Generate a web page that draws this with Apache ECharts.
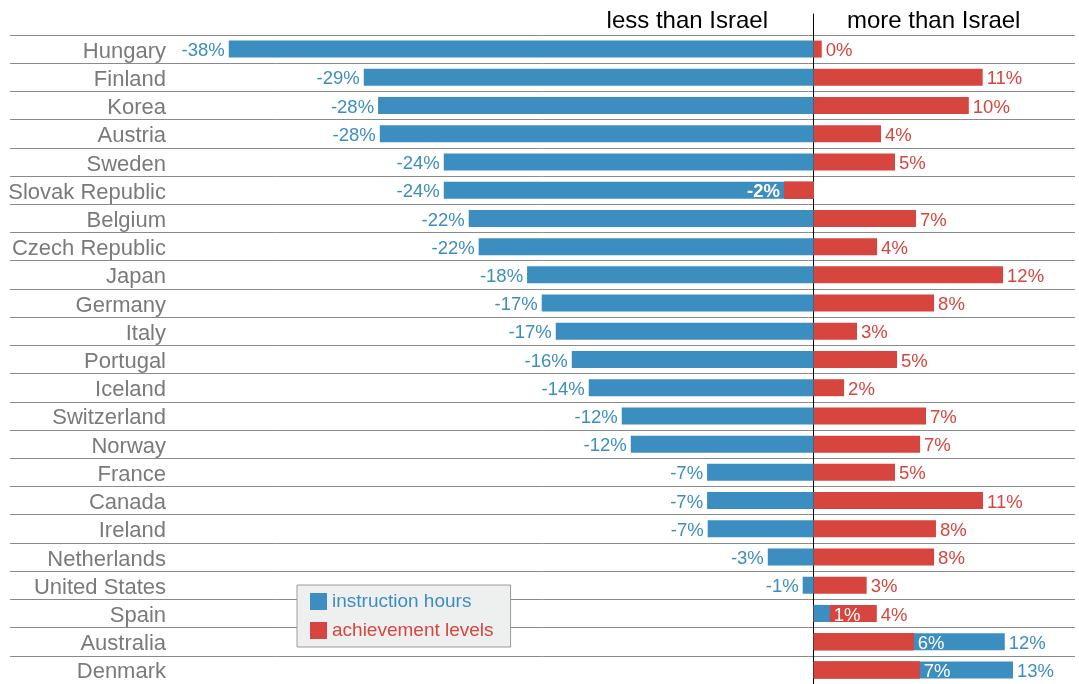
<!DOCTYPE html>
<html>
<head>
<meta charset="utf-8">
<script src="https://cdn.jsdelivr.net/npm/echarts@6/dist/echarts.min.js"></script>
<style>
  html, body { margin: 0; padding: 0; background: #fff; }
  #chart { width: 1079px; height: 684px; }
</style>
</head>
<body>
<div id="chart"></div>
<script>
const categories = ['Hungary', 'Finland', 'Korea', 'Austria', 'Sweden', 'Slovak Republic', 'Belgium',
  'Czech Republic', 'Japan', 'Germany', 'Italy', 'Portugal', 'Iceland', 'Switzerland', 'Norway',
  'France', 'Canada', 'Ireland', 'Netherlands', 'United States', 'Spain', 'Australia', 'Denmark'];

const instructionHours = [-37.57, -28.90, -27.98, -27.87, -23.76, -23.76, -22.16,
  -21.52, -18.41, -17.47, -16.57, -15.54, -14.45, -12.33, -11.75,
  -6.85, -6.85, -6.81, -2.95, -0.71, 1.03, 12.27, 12.80];

const achievementLevels = [0.3, 10.85, 9.96, 4.32, 5.22, -1.91, 6.57,
  4.07, 12.16, 7.73, 2.78, 5.35, 1.95, 7.21, 6.83,
  5.22, 10.87, 7.85, 7.73, 3.40, 4.05, 6.42, 6.81];

const headerLeft = 'less than Israel';
const headerRight = 'more than Israel';
const seriesNames = ['instruction hours', 'achievement levels'];

const BLUE = '#3d8ec0';
const RED = '#d6453e';
const FONT = '"Liberation Sans", Arial, Helvetica, sans-serif';
const fmt = p => Math.round(p.value) + '%';

// which bar is the shorter one when both bars point the same way
function shorter(i) {
  const b = instructionHours[i], r = achievementLevels[i];
  if (b * r <= 0) return null;
  return Math.abs(b) < Math.abs(r) ? 'blue' : 'red';
}

const blueData = instructionHours.map((v, i) => ({
  value: v,
  label: { show: shorter(i) !== 'blue', position: v < 0 ? 'left' : 'right' }
}));
const redData = achievementLevels.map((v, i) => ({
  value: v,
  label: { show: shorter(i) !== 'red', position: v < 0 ? 'left' : 'right' }
}));
const overlayData = categories.map((c, i) => {
  const s = shorter(i);
  if (!s) return '-';
  const v = s === 'blue' ? instructionHours[i] : achievementLevels[i];
  return {
    value: v,
    itemStyle: { color: s === 'blue' ? BLUE : RED },
    label: { show: true, position: v < 0 ? 'left' : 'right', color: '#fff', fontWeight: v < 0 ? 'bold' : 'normal' }
  };
});

const XMIN = -51.62, XMAX = 16.78;
const labelStyle = { fontSize: 18.5, distance: 4, formatter: fmt, fontFamily: FONT, offset: [0, 2] };

const chart = echarts.init(document.getElementById('chart'), null, { renderer: 'canvas' });
chart.setOption({
  animation: false,
  textStyle: { fontFamily: FONT },
  title: [
    { text: headerLeft, right: 311, top: 9, padding: 0,
      textStyle: { fontSize: 24, fontWeight: 'normal', color: '#000', fontFamily: FONT } },
    { text: headerRight, left: 847, top: 9, padding: 0,
      textStyle: { fontSize: 24, fontWeight: 'normal', color: '#000', fontFamily: FONT } }
  ],
  legend: {
    data: [
      { name: seriesNames[0], textStyle: { color: BLUE } },
      { name: seriesNames[1], textStyle: { color: RED } }
    ],
    orient: 'vertical',
    left: 297, top: 585,
    padding: [7, 17, 7, 13],
    itemWidth: 17, itemHeight: 17, itemGap: 10, itemTextGap: 5,
    icon: 'rect',
    backgroundColor: '#eef0ef',
    borderColor: '#9a9a9a', borderWidth: 1,
    textStyle: { fontSize: 19, fontFamily: FONT },
    selectedMode: false,
    z: 10
  },
  grid: [
    { left: 10, right: 4, top: 35, bottom: -2 },
    { left: 10, right: 4, top: 14, bottom: 0 }
  ],
  xAxis: [
    { type: 'value', gridIndex: 0, min: XMIN, max: XMAX, show: false },
    { type: 'value', gridIndex: 1, min: XMIN, max: XMAX, axisLabel: { show: false },
      axisLine: { show: false }, axisTick: { show: false }, splitLine: { show: false } }
  ],
  yAxis: [
    {
      type: 'category', gridIndex: 0, data: categories, inverse: true,
      offset: -164,
      axisLine: { show: false, onZero: false },
      axisTick: { show: false },
      axisLabel: { interval: 0, fontSize: 22, color: '#7a7a7a', margin: 8, fontFamily: FONT,
        verticalAlign: 'top', lineHeight: 5 },
      splitLine: { show: true, interval: 0, lineStyle: { color: '#8a8a8a', width: 1 } }
    },
    {
      type: 'category', gridIndex: 1, data: [''],
      axisLine: { show: true, onZero: true, lineStyle: { color: '#000', width: 1 } },
      axisTick: { show: false }, axisLabel: { show: false }, splitLine: { show: false }
    }
  ],
  series: [
    {
      name: seriesNames[0], type: 'bar', xAxisIndex: 0, yAxisIndex: 0,
      data: blueData, barWidth: 17, barGap: '-100%',
      itemStyle: { color: BLUE },
      label: Object.assign({ show: true, color: BLUE }, labelStyle)
    },
    {
      name: seriesNames[1], type: 'bar', xAxisIndex: 0, yAxisIndex: 0,
      data: redData, barWidth: 17, barGap: '-100%', barMinHeight: 8,
      itemStyle: { color: RED },
      label: Object.assign({ show: true, color: RED }, labelStyle)
    },
    {
      name: 'overlay', type: 'bar', xAxisIndex: 0, yAxisIndex: 0,
      data: overlayData, barWidth: 17, barGap: '-100%',
      label: Object.assign({ show: true }, labelStyle)
    }
  ]
});
</script>
</body>
</html>
